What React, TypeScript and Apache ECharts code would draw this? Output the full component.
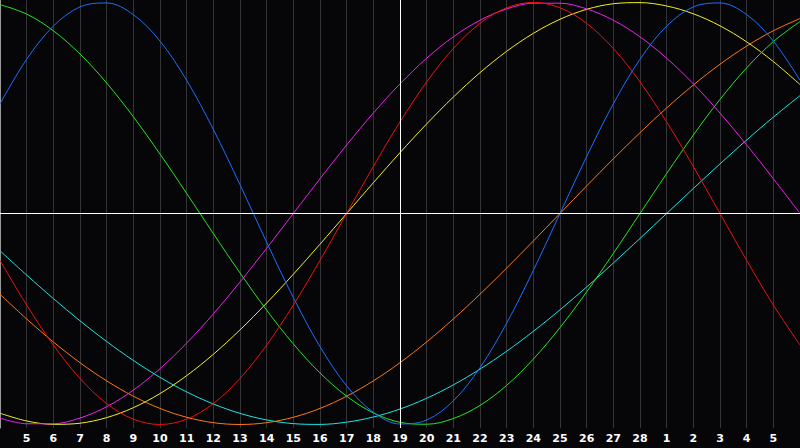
import React, { useEffect, useRef } from "react";
import * as echarts from "echarts";

// Day labels for each gridline (index 0 = left edge, 30 = right edge)
const dayLabels = [
  "", "5", "6", "7", "8", "9", "10", "11", "12", "13", "14", "15", "16", "17", "18", "19",
  "20", "21", "22", "23", "24", "25", "26", "27", "28", "1", "2", "3", "4", "5", "",
];

const todayIndex = 15;

// Values read at each day (index 0..30)
const physical = [
  0.5196, 0.7308, 0.8879, 0.9791, 0.9977, 0.9423, 0.817, 0.631, 0.3984, 0.1362, -0.1362,
  -0.3984, -0.631, -0.817, -0.9423, -0.9977, -0.9791, -0.8879, -0.7308, -0.5196, -0.2698,
  0, 0.2698, 0.5196, 0.7308, 0.8879, 0.9791, 0.9977, 0.9423, 0.817, 0.631,
];
const emotional = [
  -0.2225, -0.4339, -0.6235, -0.7818, -0.901, -0.9749, -1.0, -0.9749, -0.901, -0.7818, -0.6235,
  -0.4339, -0.2225, 0, 0.2225, 0.4339, 0.6235, 0.7818, 0.901, 0.9749, 1.0, 0.9749, 0.901,
  0.7818, 0.6235, 0.4339, 0.2225, 0, -0.2225, -0.4339, -0.6235,
];
const aesthetic = [
  -0.9465, -0.9834, -0.9993, -0.994, -0.9675, -0.9204, -0.8536, -0.7686, -0.6673, -0.5517,
  -0.4244, -0.2881, -0.1456, 0, 0.1456, 0.2881, 0.4244, 0.5517, 0.6673, 0.7686, 0.8536, 0.9204,
  0.9675, 0.994, 0.9993, 0.9834, 0.9464, 0.8893, 0.8133, 0.7199, 0.6112,
];
const intuitive = [
  -0.9694, -0.9966, -0.9966, -0.9694, -0.9158, -0.8372, -0.7357, -0.6143, -0.4759, -0.3247,
  -0.1646, 0, 0.1646, 0.3247, 0.4759, 0.6143, 0.7357, 0.8372, 0.9158, 0.9694, 0.9966, 0.9966,
  0.9694, 0.9158, 0.8372, 0.7357, 0.6143, 0.4759, 0.3247, 0.1646, 0,
];
const awareness = [
  -0.3827, -0.5, -0.6088, -0.7071, -0.7934, -0.866, -0.9239, -0.9659, -0.9914, -1.0, -0.9914,
  -0.9659, -0.9239, -0.866, -0.7934, -0.7071, -0.6088, -0.5, -0.3827, -0.2588, -0.1305, 0,
  0.1305, 0.2588, 0.3827, 0.5, 0.6088, 0.7071, 0.7934, 0.866, 0.9239,
];
const intellectual = [
  0.9898, 0.945, 0.866, 0.7557, 0.6182, 0.4582, 0.2817, 0.0951, -0.0951, -0.2817, -0.4582,
  -0.6182, -0.7557, -0.866, -0.945, -0.9898, -0.9989, -0.9718, -0.9096, -0.8146, -0.6901,
  -0.5406, -0.3717, -0.1893, 0, 0.1893, 0.3717, 0.5406, 0.6901, 0.8146, 0.9096,
];
const spiritual = [
  -0.1769, -0.292, -0.4031, -0.5085, -0.6068, -0.6965, -0.7766, -0.8457, -0.9028, -0.9473,
  -0.9786, -0.996, -0.9996, -0.989, -0.9646, -0.9267, -0.8758, -0.8125, -0.7376, -0.6528,
  -0.5586, -0.4566, -0.3482, -0.2349, -0.1183, 0, 0.1183, 0.2349, 0.3482, 0.4566, 0.5586,
];

const seriesDefs = [
  { name: "Spiritual", data: spiritual, color: "#18e8e8" },
  { name: "Awareness", data: awareness, color: "#ff7a10" },
  { name: "Aesthetic", data: aesthetic, color: "#f4f020" },
  { name: "Intellectual", data: intellectual, color: "#22e822" },
  { name: "Intuitive", data: intuitive, color: "#f020f0" },
  { name: "Emotional", data: emotional, color: "#ee1010" },
  { name: "Physical", data: physical, color: "#1a70ff" },
];

export default function App() {
  const ref = useRef<HTMLDivElement>(null);
  useEffect(() => {
    if (!ref.current) return;
    const chart = echarts.init(ref.current, undefined, { renderer: "svg" });
    const series: any[] = seriesDefs.map((s) => ({
      name: s.name,
      type: "line",
      data: s.data.map((v, i) => [i, v]),
      smooth: 0.35,
      showSymbol: false,
      symbol: "none",
      lineStyle: { color: s.color, width: 1 },
      itemStyle: { color: s.color },
      silent: true,
    }));
    series.push({
      type: "line",
      data: [],
      silent: true,
      markLine: {
        silent: true,
        symbol: ["none", "none"],
        label: { show: false },
        lineStyle: { color: "#ffffff", width: 1, type: "solid" },
        data: [{ yAxis: 0 }, { xAxis: todayIndex }],
      },
    });
    chart.setOption({
      animation: false,
      backgroundColor: "#060609",
      grid: { left: 0, right: 0, top: 0, bottom: 20, containLabel: false },
      xAxis: {
        type: "value",
        min: 0,
        max: 30,
        interval: 1,
        axisLine: { show: true, lineStyle: { color: "#9a9a9a", width: 1 } },
        axisTick: { show: false },
        splitLine: { show: true, lineStyle: { color: "#353538", width: 1 } },
        axisLabel: {
          show: true,
          color: "#ffffff",
          fontFamily: "DejaVu Sans",
          fontWeight: "bold",
          fontSize: 11,
          margin: 5,
          showMinLabel: false,
          showMaxLabel: false,
          formatter: (v: number) => dayLabels[Math.round(v)] ?? "",
        },
      },
      yAxis: {
        type: "value",
        min: -1.0167,
        max: 1.0117,
        axisLine: { show: true, onZero: false, lineStyle: { color: "#9a9a9a", width: 1 } },
        axisTick: { show: false },
        axisLabel: { show: false },
        splitLine: { show: false },
      },
      series,
    });
    return () => chart.dispose();
  }, []);
  return (
    <div
      ref={ref}
      style={{ position: "fixed", left: 0, top: 0, width: 800, height: 448 }}
    />
  );
}
